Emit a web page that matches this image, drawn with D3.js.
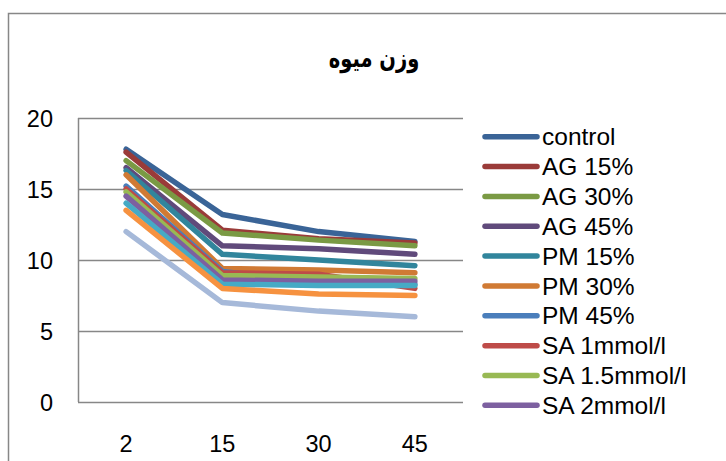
<!DOCTYPE html>
<html>
<head>
<meta charset="utf-8">
<script src="https://cdn.jsdelivr.net/npm/d3@7"></script>
<style>
  html, body { margin: 0; padding: 0; background: #fff; }
  svg { display: block; }
</style>
</head>
<body>
<div id="chart"></div>
<script>
// ---- data ----
const title = "وزن میوه";
const categories = ["2", "15", "30", "45"];
const yTicks = [0, 5, 10, 15, 20];
const seriesNames = ["control", "AG 15%", "AG 30%", "AG 45%", "PM 15%", "PM 30%", "PM 45%",
  "SA 1mmol/l", "SA 1.5mmol/l", "SA 2mmol/l", "Series 11", "Series 12", "Series 13"];
const control = [17.8, 13.2, 12.0, 11.3];
const ag15 = [17.6, 12.1, 11.5, 11.2];
const ag30 = [17.0, 11.9, 11.4, 11.0];
const ag45 = [16.5, 11.0, 10.8, 10.4];
const pm15 = [16.3, 10.4, 10.0, 9.6];
const pm30 = [16.0, 9.4, 9.3, 9.1];
const pm45 = [15.2, 9.2, 8.4, 8.3];
const sa1 = [15.0, 9.1, 9.0, 8.0];
const sa15 = [14.8, 8.9, 8.8, 8.7];
const sa2 = [14.5, 8.6, 8.5, 8.5];
const s11 = [14.0, 8.3, 8.2, 8.2];
const s12 = [13.5, 8.0, 7.6, 7.5];
const s13 = [12.0, 7.0, 6.4, 6.0];
const seriesValues = [control, ag15, ag30, ag45, pm15, pm30, pm45, sa1, sa15, sa2, s11, s12, s13];
const colors = ["#3A6497", "#9A3B39", "#7A9A44", "#604A7B", "#31859C", "#D07A34", "#4A7EBB",
  "#BE4B48", "#98B954", "#7D60A0", "#46AAC5", "#F69240", "#A6B9D9"];
const legendCount = 10; // remaining entries fall outside the visible chart area

// ---- layout ----
const W = 726, H = 461;
const plot = { left: 78, right: 463, top: 118, bottom: 402 };
const gridColor = "#878787";
const font = "'Liberation Sans', Arial, sans-serif";

const svg = d3.select("#chart").append("svg").attr("width", W).attr("height", H);

// chart border
svg.append("rect")
  .attr("x", 8.5).attr("y", 13.5).attr("width", 900).attr("height", 600)
  .attr("fill", "#fff").attr("stroke", gridColor).attr("stroke-width", 1.5);

const x = d3.scaleBand().domain(categories).range([plot.left, plot.right]).padding(0);
const cx = c => x(c) + x.bandwidth() / 2;
const y = d3.scaleLinear().domain([0, 20]).range([plot.bottom, plot.top]);

// gridlines
svg.append("g").selectAll("line").data(yTicks).join("line")
  .attr("x1", plot.left).attr("x2", plot.right)
  .attr("y1", d => Math.round(y(d)) + 0.5).attr("y2", d => Math.round(y(d)) + 0.5)
  .attr("stroke", gridColor).attr("stroke-width", 1.5);

// y axis line
svg.append("line")
  .attr("x1", plot.left + 0.5).attr("x2", plot.left + 0.5)
  .attr("y1", y(20)).attr("y2", y(0))
  .attr("stroke", gridColor).attr("stroke-width", 1.5);

// y tick labels
svg.append("g").selectAll("text").data(yTicks).join("text")
  .attr("x", 53).attr("y", d => y(d) + 8.5)
  .attr("text-anchor", "end")
  .attr("font-family", font).attr("font-size", 23.5).attr("fill", "#000")
  .text(d => d);

// x tick labels
svg.append("g").selectAll("text").data(categories).join("text")
  .attr("x", d => cx(d)).attr("y", 452)
  .attr("text-anchor", "middle")
  .attr("font-family", font).attr("font-size", 23.5).attr("fill", "#000")
  .text(d => d);

// lines
const line = d3.line().x((d, i) => cx(categories[i])).y(d => y(d));
svg.append("g").selectAll("path").data(seriesValues).join("path")
  .attr("d", d => line(d))
  .attr("fill", "none")
  .attr("stroke", (d, i) => colors[i])
  .attr("stroke-width", 5.5)
  .attr("stroke-linecap", "round")
  .attr("stroke-linejoin", "round");

// legend
const leg = svg.append("g");
const legItems = seriesNames.slice(0, legendCount);
legItems.forEach((name, i) => {
  const ly = 136.7 + i * 29.85;
  leg.append("line")
    .attr("x1", 485).attr("x2", 537).attr("y1", ly).attr("y2", ly)
    .attr("stroke", colors[i]).attr("stroke-width", 5.5).attr("stroke-linecap", "round");
  leg.append("text")
    .attr("x", 542).attr("y", ly + 8.6)
    .attr("font-family", font).attr("font-size", 24.5).attr("fill", "#000")
    .text(name);
});

// title
svg.append("text")
  .attr("transform", "translate(374,67) scale(1,1.35)")
  .attr("text-anchor", "middle")
  .attr("font-family", "'DejaVu Sans', sans-serif").attr("font-weight", "bold")
  .attr("font-size", 19.5).attr("fill", "#000")
  .attr("direction", "rtl")
  .text(title);
</script>
</body>
</html>
